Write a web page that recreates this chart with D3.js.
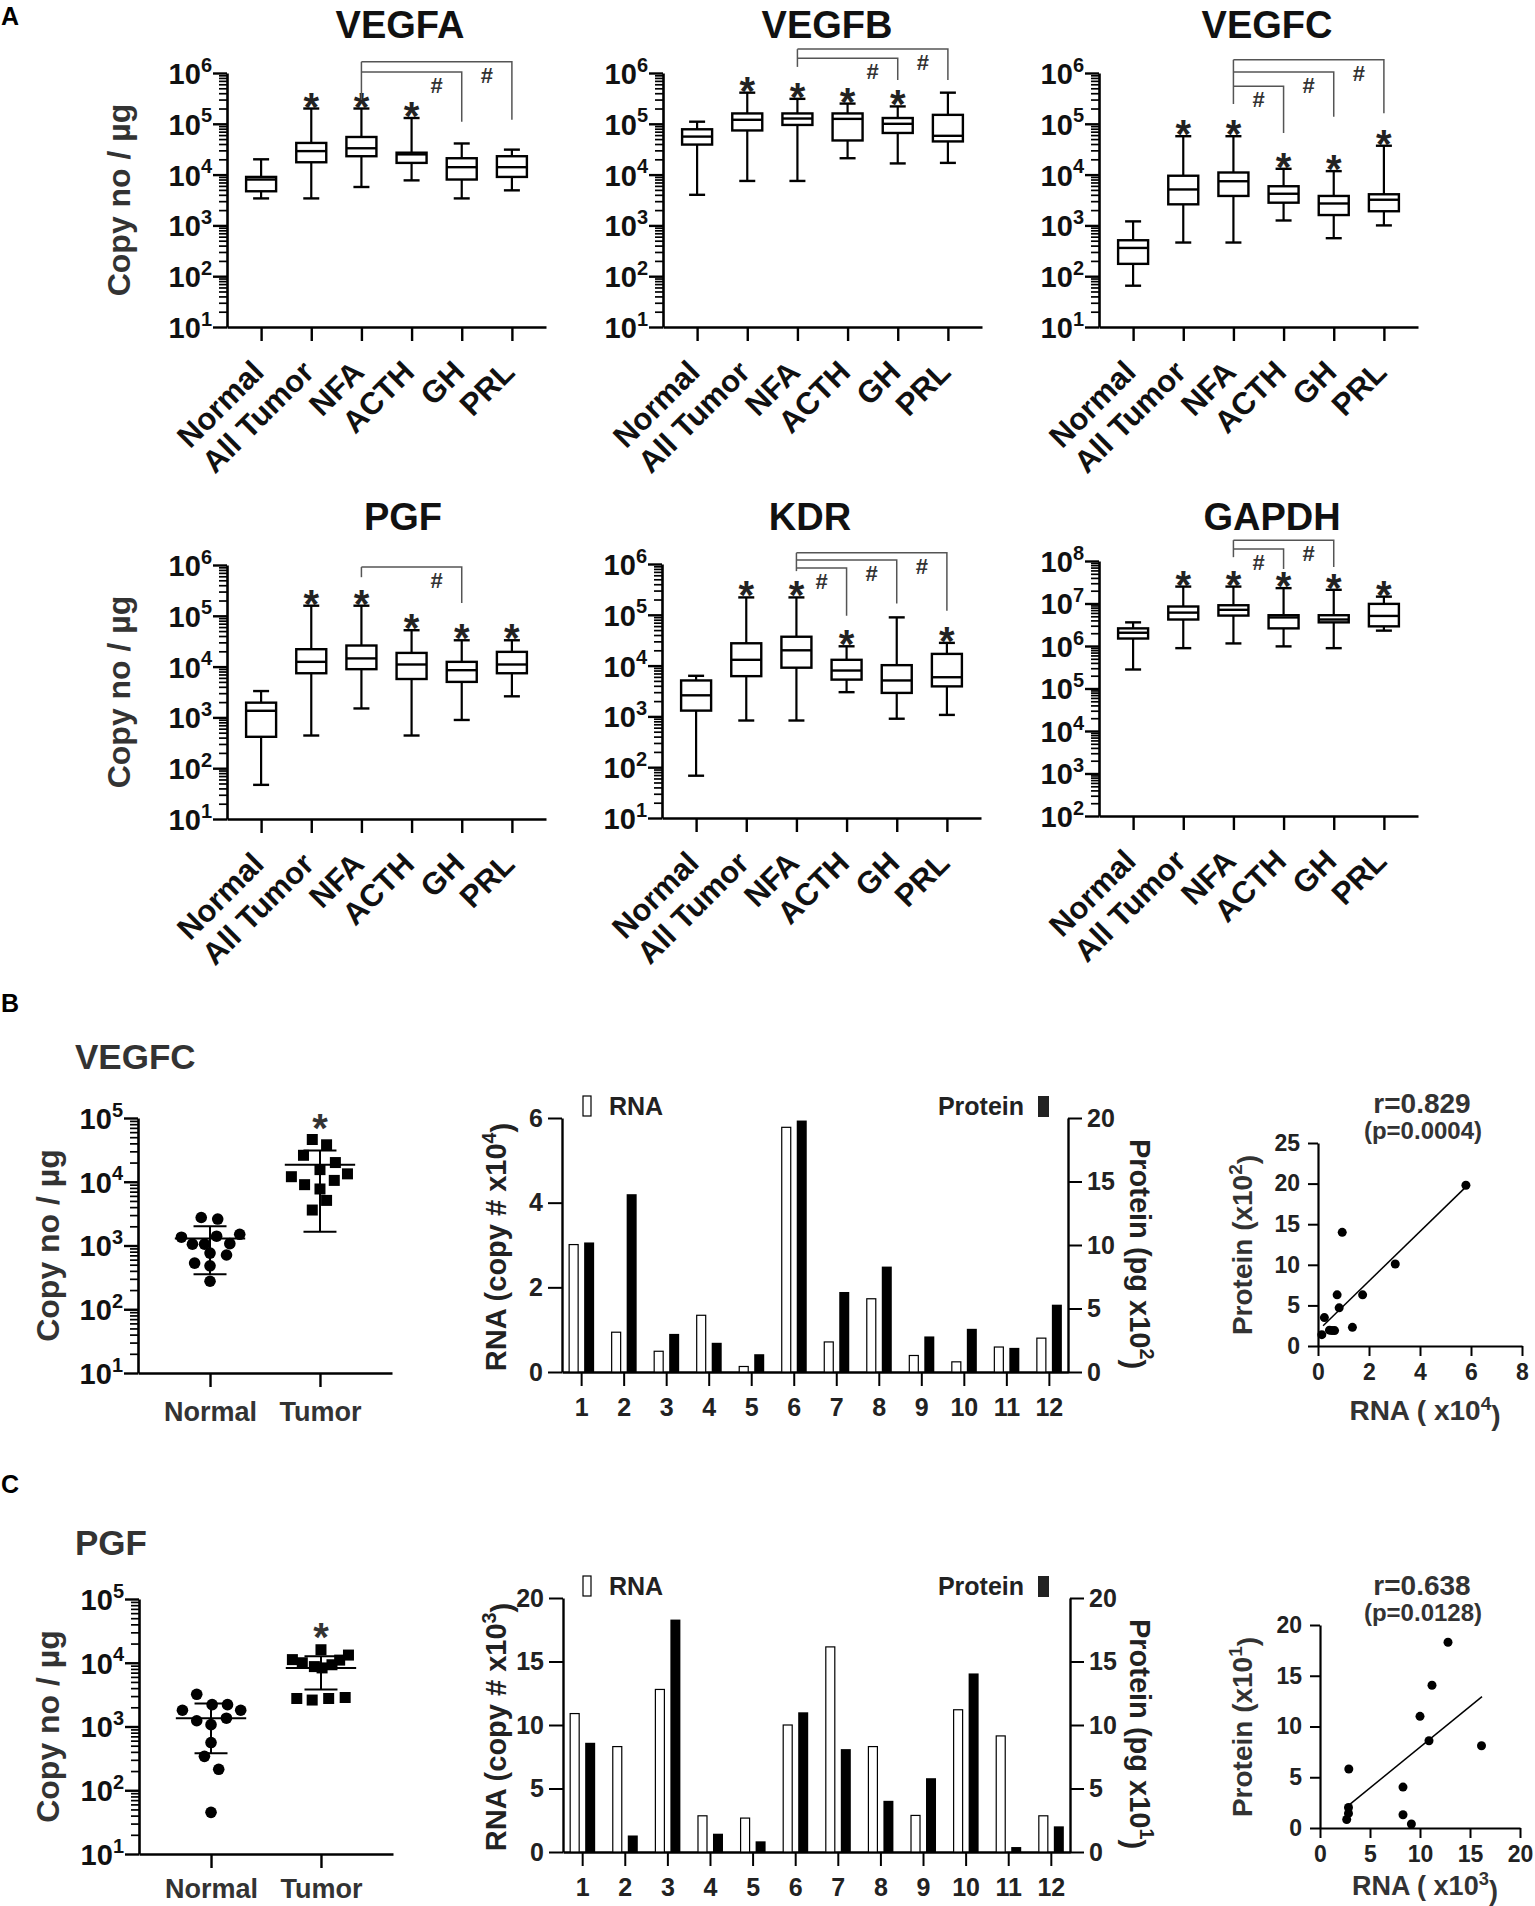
<!DOCTYPE html>
<html>
<head>
<meta charset="utf-8">
<script src="https://cdn.jsdelivr.net/npm/d3@7"></script>
<style>
body { margin: 0; background: #fff; }
svg { display: block; font-family: "Liberation Sans", Arial, sans-serif; font-weight: bold; }
</style>
</head>
<body>
<svg id="fig" width="1535" height="1906"></svg>
<script>
// ---- panel A : box plots, [min, q1, median, q3, max] per group ----
const groups = ["Normal", "All Tumor", "NFA", "ACTH", "GH", "PRL"];

const vegfaStats = [[3.4e3, 4.7e3, 8e3, 9e3, 2e4], [3.4e3, 1.75e4, 2.9e4, 4.2e4, 2e5], [5.7e3, 2.3e4, 3.3e4, 5.5e4, 2e5],
  [7.7e3, 1.7e4, 2.5e4, 2.7e4, 1.3e5], [3.4e3, 8e3, 1.4e4, 2.1e4, 4.1e4], [4.9e3, 9e3, 1.4e4, 2.3e4, 3.1e4]];
const vegfbStats = [[4e3, 3.9e4, 5.6e4, 7.8e4, 1.1e5], [7.5e3, 7.4e4, 1.2e5, 1.6e5, 4.1e5], [7.5e3, 9.5e4, 1.27e5, 1.6e5, 3.1e5],
  [2.1e4, 4.7e4, 1.25e5, 1.6e5, 2.5e5], [1.66e4, 6.6e4, 1e5, 1.3e5, 2.2e5], [1.7e4, 4.5e4, 5.8e4, 1.5e5, 4.1e5]];
const vegfcStats = [[65, 175, 360, 510, 1.2e3], [460, 2.6e3, 5.1e3, 9.5e3, 5.7e4], [460, 3.8e3, 7.4e3, 1.1e4, 5.7e4],
  [1.25e3, 2.8e3, 4.2e3, 5.9e3, 1.3e4], [560, 1.6e3, 2.7e3, 3.8e3, 1.17e4], [1e3, 1.9e3, 3.2e3, 4.1e3, 3.7e4]];
const pgfStats = [[47, 415, 1.35e3, 1.95e3, 3.3e3], [440, 7.4e3, 1.24e4, 2.2e4, 1.58e5], [1.5e3, 8.9e3, 1.45e4, 2.6e4, 1.58e5],
  [440, 5.7e3, 1.1e4, 1.86e4, 5.2e4], [890, 5e3, 8.5e3, 1.24e4, 3.3e4], [2.6e3, 7.4e3, 1.1e4, 1.95e4, 3.3e4]];
const kdrStats = [[68, 1.3e3, 2.6e3, 5.1e3, 6.3e3], [830, 6.2e3, 1.3e4, 2.75e4, 2.2e5], [830, 9.1e3, 2e4, 3.7e4, 2.2e5],
  [3e3, 5.3e3, 8e3, 1.3e4, 2.4e4], [900, 2.9e3, 5.1e3, 1.02e4, 8.9e4], [1.07e3, 3.9e3, 5.9e3, 1.7e4, 2.8e4]];
const gapdhStats = [[2.8e5, 1.5e6, 2.05e6, 2.6e6, 3.6e6], [8.9e5, 4.2e6, 6.1e6, 8.5e6, 2.5e7], [1.15e6, 5.2e6, 7.1e6, 9.1e6, 2.5e7],
  [9.8e5, 2.6e6, 4.7e6, 5.3e6, 2.3e7], [8.9e5, 3.6e6, 4.2e6, 5.3e6, 2.1e7], [2.3e6, 2.9e6, 5.1e6, 9.8e6, 1.45e7]];

// * = different from Normal
const vegfaStars = [0, 1, 1, 1, 0, 0];
const vegfbStars = [0, 1, 1, 1, 1, 0];
const vegfcStars = [0, 1, 1, 1, 1, 1];
const pgfStars = [0, 1, 1, 1, 1, 1];
const kdrStars = [0, 1, 1, 1, 0, 1];
const gapdhStars = [0, 1, 1, 1, 1, 1];

// # brackets from NFA: [target, bar level (log10), drop end (log10)]
const vegfaBrackets = [["GH", 6.02, 5.04], ["PRL", 6.22, 5.08]];
const vegfbBrackets = [["GH", 6.29, 5.86], ["PRL", 6.47, 5.86]];
const vegfcBrackets = [["ACTH", 5.74, 4.82], ["GH", 6.02, 5.14], ["PRL", 6.26, 5.21]];
const pgfBrackets = [["GH", 5.96, 5.25]];
const kdrBrackets = [["ACTH", 5.92, 4.98], ["GH", 6.08, 5.22], ["PRL", 6.22, 5.08]];
const gapdhBrackets = [["ACTH", 8.28, 7.81], ["GH", 8.49, 7.86]];
// lower end of the NFA leg (log10)
const nfaLegEnd = { VEGFA: 5.47, VEGFB: 6.12, VEGFC: 5.39, PGF: 5.76, KDR: 5.86, GAPDH: 8.09 };

// ---- panels B / C : dot plots (value, jitter as fraction of group step) ----
const dotGroups = ["Normal", "Tumor"];
const vegfcNormalVals = [2750, 2600, 1350, 1500, 1050, 1050, 1400, 1070, 760, 710, 530, 480, 275];
const vegfcNormalJit = [-0.08, 0.07, -0.26, 0.27, -0.16, -0.05, 0.06, 0.18, 0, 0.15, -0.14, 0, 0];
const vegfcTumorVals = [4.6e4, 3.8e4, 2.6e4, 2.0e4, 1.2e4, 1.55e4, 1.33e4, 9e3, 1.05e4, 7.7e3, 5.1e3, 3.6e3];
const vegfcTumorJit = [-0.07, 0.06, -0.15, 0.14, -0.26, 0, 0.25, -0.14, 0.13, 0, 0.06, -0.07];
const vegfcMeanSd = [[1290, 355, 2000], [1.85e4, 1650, 3.1e4]]; // mean, low, high

const pgfNormalVals = [3200, 1800, 2200, 2200, 1800, 1230, 1070, 1350, 560, 340, 213, 45];
const pgfNormalJit = [-0.13, -0.26, 0.01, 0.15, 0.27, -0.13, 0, 0.14, 0, -0.06, 0.07, 0];
const pgfTumorVals = [1.6e4, 1.12e4, 1.32e4, 1e4, 8.7e3, 8.3e3, 9.3e3, 1.1e4, 2.75e3, 2.6e3, 2.75e3, 2.85e3];
const pgfTumorJit = [0, -0.26, 0.25, -0.17, -0.06, 0.01, 0.1, 0.17, -0.22, -0.08, 0.07, 0.22];
const pgfMeanSd = [[1350, 380, 2300], [8300, 3800, 1.26e4]];

// ---- paired bars per sample ----
const samples = ["1", "2", "3", "4", "5", "6", "7", "8", "9", "10", "11", "12"];
const vegfcRna = [3.01, 0.94, 0.49, 1.34, 0.13, 5.78, 0.71, 1.73, 0.39, 0.24, 0.59, 0.80];      // copy # x10^4
const vegfcProtein = [10.2, 14.0, 3.0, 2.3, 1.4, 19.8, 6.3, 8.3, 2.8, 3.4, 1.9, 5.3];           // pg x10^2
const pgfRna = [10.9, 8.3, 12.8, 2.85, 2.67, 10.0, 16.15, 8.3, 2.88, 11.2, 9.14, 2.85];          // copy # x10^3
const pgfProtein = [8.6, 1.3, 18.3, 1.44, 0.84, 11.0, 8.1, 4.03, 5.81, 14.06, 0.39, 2.02];       // pg x10^1

// ---- correlation scatter ----
const vegfcScatterRna = [5.8, 0.95, 3.03, 0.75, 1.75, 0.83, 0.25, 1.35, 0.45, 0.65, 0.55, 0.15];
const vegfcScatterProt = [19.8, 14.0, 10.1, 6.3, 6.3, 4.7, 3.5, 2.3, 1.95, 1.9, 1.9, 1.4];
const vegfcFitX = [0.2, 5.8], vegfcFitY = [2.5, 19.6];
const pgfFitX = [2.95, 16.2], pgfFitY = [2.3, 12.95];

const svg = d3.select("#fig");
svg.append("rect").attr("width", 1535).attr("height", 1906).attr("fill", "#fff");

function clean(sel) {
  sel.attr("font-size", null).attr("font-family", null);
  return sel;
}

function logAxis(g, y, x0, lo, hi, fs) {
  const major = d3.range(lo, hi + 1).map(e => Math.pow(10, e));
  const minor = [];
  for (let e = lo; e < hi; e++) for (let k = 2; k < 10; k++) minor.push(k * Math.pow(10, e));
  const m = g.append("g").attr("transform", `translate(${x0},0)`)
    .call(d3.axisLeft(y).tickValues(minor).tickSize(8).tickSizeOuter(0).tickFormat(""));
  m.select(".domain").remove();
  m.selectAll(".tick line").attr("stroke-width", 1.7);
  const a = clean(g.append("g").attr("transform", `translate(${x0},0)`)
    .call(d3.axisLeft(y).tickValues(major).tickSize(14).tickSizeOuter(0).tickFormat("")));
  a.select(".domain").attr("stroke-width", 2.6);
  a.selectAll(".tick line").attr("stroke-width", 2.4);
  a.selectAll(".tick").append("text")
    .attr("x", -15).attr("dy", "0.36em").attr("text-anchor", "end")
    .attr("fill", "#111").style("font-size", fs + "px")
    .each(function(d) {
      const t = d3.select(this);
      t.append("tspan").text("10");
      t.append("tspan").attr("dy", "-0.62em").style("font-size", Math.round(fs * 0.68) + "px")
        .text(Math.round(Math.log10(d)));
    });
}

function boxPanel(p) {
  const g = svg.append("g");
  const x = d3.scalePoint().domain(groups).range([p.x0, p.x0 + 319]).padding(0.68);
  const y = d3.scaleLog().domain([Math.pow(10, p.lo), Math.pow(10, p.hi)]).range([p.bottom, p.top]);

  g.append("text").attr("x", p.titleX).attr("y", p.titleY).attr("text-anchor", "middle")
    .attr("fill", "#111").style("font-size", "38px").text(p.title);

  if (p.ylabel) {
    g.append("text").attr("transform", `translate(118,${(p.top + p.bottom) / 2}) rotate(-90)`)
      .attr("text-anchor", "middle").attr("dy", "0.36em").attr("fill", "#333")
      .style("font-size", "32px").text("Copy no / µg");
  }

  logAxis(g, y, p.x0, p.lo, p.hi, 29);

  const xa = clean(g.append("g").attr("transform", `translate(0,${p.bottom})`)
    .call(d3.axisBottom(x).tickSize(14).tickSizeOuter(0).tickFormat("")));
  xa.select(".domain").attr("stroke-width", 2.6);
  xa.selectAll(".tick line").attr("stroke-width", 2.4);
  xa.selectAll(".tick").append("text")
    .attr("text-anchor", "end").attr("fill", "#111").style("font-size", "31px")
    .attr("transform", "translate(4,47) rotate(-45)")
    .text(d => d);

  // boxes
  const b = g.selectAll(".bx").data(p.stats).join("g").attr("class", "bx")
    .attr("transform", (d, i) => `translate(${x(groups[i])},0)`);
  b.append("line").attr("y1", d => y(d[0])).attr("y2", d => y(d[4]))
    .attr("stroke", "#000").attr("stroke-width", 2.2);
  b.append("line").attr("x1", -8).attr("x2", 8).attr("y1", d => y(d[0])).attr("y2", d => y(d[0]))
    .attr("stroke", "#000").attr("stroke-width", 2.4);
  b.append("line").attr("x1", -8).attr("x2", 8).attr("y1", d => y(d[4])).attr("y2", d => y(d[4]))
    .attr("stroke", "#000").attr("stroke-width", 2.4);
  b.append("rect").attr("x", -15).attr("width", 30)
    .attr("y", d => y(d[3])).attr("height", d => y(d[1]) - y(d[3]))
    .attr("fill", "#fff").attr("stroke", "#000").attr("stroke-width", 2.4);
  b.append("line").attr("x1", -15).attr("x2", 15).attr("y1", d => y(d[2])).attr("y2", d => y(d[2]))
    .attr("stroke", "#000").attr("stroke-width", 2.4);

  // stars
  b.filter((d, i) => p.stars[i]).append("text")
    .attr("text-anchor", "middle").attr("y", d => y(d[4]) + 12)
    .attr("fill", "#222").style("font-size", "40px").text("*");

  // brackets
  const xn = x("NFA");
  const topLevel = d3.max(p.brackets, d => d[1]);
  g.append("line").attr("x1", xn).attr("x2", xn)
    .attr("y1", y(Math.pow(10, topLevel))).attr("y2", y(Math.pow(10, p.nfaLeg)))
    .attr("stroke", "#555").attr("stroke-width", 1.5);
  p.brackets.forEach(([t, lev, drop]) => {
    const xt = x(t);
    const yl = y(Math.pow(10, lev));
    g.append("path").attr("d", `M${xn},${yl}H${xt}V${y(Math.pow(10, drop))}`)
      .attr("fill", "none").attr("stroke", "#555").attr("stroke-width", 1.5);
    const prev = groups[groups.indexOf(t) - 1];
    g.append("text").attr("x", (x(prev) + xt) / 2).attr("y", yl + 21)
      .attr("text-anchor", "middle").attr("fill", "#333").style("font-size", "22px").text("#");
  });
}

boxPanel({ title: "VEGFA", stats: vegfaStats, stars: vegfaStars, brackets: vegfaBrackets, nfaLeg: nfaLegEnd.VEGFA,
  x0: 227, top: 73, bottom: 327, lo: 1, hi: 6, titleX: 400, titleY: 38, ylabel: true });
boxPanel({ title: "VEGFB", stats: vegfbStats, stars: vegfbStars, brackets: vegfbBrackets, nfaLeg: nfaLegEnd.VEGFB,
  x0: 663, top: 73, bottom: 327, lo: 1, hi: 6, titleX: 827, titleY: 38 });
boxPanel({ title: "VEGFC", stats: vegfcStats, stars: vegfcStars, brackets: vegfcBrackets, nfaLeg: nfaLegEnd.VEGFC,
  x0: 1099, top: 73, bottom: 327, lo: 1, hi: 6, titleX: 1267, titleY: 38 });
boxPanel({ title: "PGF", stats: pgfStats, stars: pgfStars, brackets: pgfBrackets, nfaLeg: nfaLegEnd.PGF,
  x0: 227, top: 565, bottom: 819, lo: 1, hi: 6, titleX: 403, titleY: 530, ylabel: true });
boxPanel({ title: "KDR", stats: kdrStats, stars: kdrStars, brackets: kdrBrackets, nfaLeg: nfaLegEnd.KDR,
  x0: 662, top: 564, bottom: 818, lo: 1, hi: 6, titleX: 810, titleY: 530 });
boxPanel({ title: "GAPDH", stats: gapdhStats, stars: gapdhStars, brackets: gapdhBrackets, nfaLeg: nfaLegEnd.GAPDH,
  x0: 1099, top: 561, bottom: 816, lo: 2, hi: 8, titleX: 1272, titleY: 530 });

// panel letters
[["A", 25], ["B", 1012], ["C", 1493]].forEach(([t, yy]) => {
  svg.append("text").attr("x", 1).attr("y", yy).attr("fill", "#000").style("font-size", "25px").text(t);
});

function dotPanel(p) {
  const g = svg.append("g");
  const x = d3.scalePoint().domain(dotGroups).range([p.x0, p.x0 + 254]).padding(0.655);
  const y = d3.scaleLog().domain([10, 1e5]).range([p.bottom, p.top]);
  const step = x.step();

  g.append("text").attr("x", 75).attr("y", p.titleY).attr("fill", "#333")
    .style("font-size", "35px").text(p.title);
  g.append("text").attr("transform", `translate(47,${(p.top + p.bottom) / 2}) rotate(-90)`)
    .attr("text-anchor", "middle").attr("dy", "0.36em").attr("fill", "#333")
    .style("font-size", "32px").text("Copy no / µg");

  logAxis(g, y, p.x0, 1, 5, 29);
  const xa = clean(g.append("g").attr("transform", `translate(0,${p.bottom})`)
    .call(d3.axisBottom(x).tickSize(14).tickSizeOuter(0).tickPadding(p.labPad)));
  xa.select(".domain").attr("stroke-width", 2.6);
  xa.selectAll(".tick line").attr("stroke-width", 2.4);
  xa.selectAll(".tick text").attr("fill", "#333").style("font-size", "27px");

  const sets = [[p.normal, p.normalJit], [p.tumor, p.tumorJit]];
  sets.forEach(([vals, jit], gi) => {
    const cx = x(dotGroups[gi]);
    if (gi === 0) {
      g.selectAll(null).data(vals).join("circle")
        .attr("cx", (d, i) => cx + jit[i] * step).attr("cy", d => y(d)).attr("r", 5.8).attr("fill", "#000");
    } else {
      g.selectAll(null).data(vals).join("rect")
        .attr("x", (d, i) => cx + jit[i] * step - 5.5).attr("y", d => y(d) - 5.5)
        .attr("width", 11).attr("height", 11).attr("fill", "#000");
    }
    const [mn, lo, hi] = p.meanSd[gi];
    g.append("line").attr("x1", cx).attr("x2", cx).attr("y1", y(lo)).attr("y2", y(hi))
      .attr("stroke", "#000").attr("stroke-width", 2);
    g.append("line").attr("x1", cx - 0.32 * step).attr("x2", cx + 0.32 * step).attr("y1", y(mn)).attr("y2", y(mn))
      .attr("stroke", "#000").attr("stroke-width", 2);
    [lo, hi].forEach(v => g.append("line").attr("x1", cx - 0.15 * step).attr("x2", cx + 0.15 * step)
      .attr("y1", y(v)).attr("y2", y(v)).attr("stroke", "#000").attr("stroke-width", 2));
  });
  g.append("text").attr("x", x("Tumor")).attr("y", p.starY).attr("text-anchor", "middle")
    .attr("fill", "#333").style("font-size", "40px").text("*");
}

dotPanel({ title: "VEGFC", titleY: 1069, x0: 138, top: 1118, bottom: 1373, labPad: 15,
  normal: vegfcNormalVals, normalJit: vegfcNormalJit, tumor: vegfcTumorVals, tumorJit: vegfcTumorJit,
  meanSd: vegfcMeanSd, starY: 1142 });
dotPanel({ title: "PGF", titleY: 1555, x0: 139, top: 1599, bottom: 1854, labPad: 11,
  normal: pgfNormalVals, normalJit: pgfNormalJit, tumor: pgfTumorVals, tumorJit: pgfTumorJit,
  meanSd: pgfMeanSd, starY: 1651 });

function supText(sel, parts) {
  // parts: [text, superscript, text]
  sel.append("tspan").text(parts[0]);
  sel.append("tspan").attr("dy", "-0.55em").style("font-size", "0.68em").text(parts[1]);
  sel.append("tspan").attr("dy", "0.55em").text(parts[2]);
}

function barPanel(p) {
  const g = svg.append("g");
  const x = d3.scalePoint().domain(samples).range([p.xl, p.xr]).padding(0.45);
  const yr = d3.scaleLinear().domain([0, p.rnaMax]).range([p.y0, p.y0 - 254]);
  const yp = d3.scaleLinear().domain([0, 20]).range([p.y0, p.y0 - 254]);

  const la = clean(g.append("g").attr("transform", `translate(${p.xl},0)`)
    .call(d3.axisLeft(yr).tickValues(p.rnaTicks).tickFormat(d3.format("d"))
      .tickSize(14).tickSizeOuter(0).tickPadding(5)));
  const ra = clean(g.append("g").attr("transform", `translate(${p.xr},0)`)
    .call(d3.axisRight(yp).tickValues([0, 5, 10, 15, 20]).tickSize(14).tickSizeOuter(0).tickPadding(5)));
  const ba = clean(g.append("g").attr("transform", `translate(0,${p.y0})`)
    .call(d3.axisBottom(x).tickSize(14).tickSizeOuter(0).tickPadding(12)));
  [la, ra, ba].forEach(a => {
    a.select(".domain").attr("stroke-width", 2.4);
    a.selectAll(".tick line").attr("stroke-width", 2);
    a.selectAll(".tick text").attr("fill", "#222").style("font-size", "25px");
  });

  g.selectAll(null).data(p.rna).join("rect")
    .attr("x", (d, i) => x(samples[i]) - 12).attr("width", 9)
    .attr("y", d => yr(d)).attr("height", d => p.y0 - yr(d))
    .attr("fill", "#fff").attr("stroke", "#000").attr("stroke-width", 1.2);
  g.selectAll(null).data(p.protein).join("rect")
    .attr("x", (d, i) => x(samples[i]) + 3).attr("width", 10)
    .attr("y", d => yp(d)).attr("height", d => p.y0 - yp(d))
    .attr("fill", "#000");

  // legend
  g.append("rect").attr("x", 583).attr("y", p.legY).attr("width", 8).attr("height", 20)
    .attr("fill", "#fff").attr("stroke", "#000").attr("stroke-width", 1.2);
  g.append("text").attr("x", 609).attr("y", p.legY + 19).attr("fill", "#222").style("font-size", "25px").text("RNA");
  g.append("text").attr("x", 1024).attr("y", p.legY + 19).attr("text-anchor", "end")
    .attr("fill", "#222").style("font-size", "25px").text("Protein");
  g.append("rect").attr("x", 1038).attr("y", p.legY).attr("width", 11).attr("height", 21).attr("fill", "#222");

  supText(g.append("text").attr("transform", `translate(496,${p.y0 - 125}) rotate(-90)`)
    .attr("text-anchor", "middle").attr("dy", "0.36em").attr("fill", "#222").style("font-size", "29px"),
    ["RNA (copy # x10", p.rnaExp, ")"]);
  supText(g.append("text").attr("transform", `translate(1140,${p.y0 - 118}) rotate(90)`)
    .attr("text-anchor", "middle").attr("dy", "0.36em").attr("fill", "#222").style("font-size", "29px"),
    ["Protein (pg x10", p.protExp, ")"]);
}

barPanel({ xl: 562, xr: 1068, y0: 1372, rnaMax: 6, rnaTicks: [0, 2, 4, 6], rna: vegfcRna, protein: vegfcProtein,
  rnaExp: "4", protExp: "2", legY: 1096 });
barPanel({ xl: 563, xr: 1070, y0: 1852, rnaMax: 20, rnaTicks: [0, 5, 10, 15, 20], rna: pgfRna, protein: pgfProtein,
  rnaExp: "3", protExp: "1", legY: 1576 });

function scatterPanel(p) {
  const g = svg.append("g");
  const x = d3.scaleLinear().domain([0, p.xMax]).range([p.x0, p.x0 + p.w]);
  const y = d3.scaleLinear().domain([0, p.yMax]).range([p.y0, p.y0 - 203]);
  const xa = clean(g.append("g").attr("transform", `translate(0,${p.y0})`)
    .call(d3.axisBottom(x).tickValues(p.xTicks).tickSize(10).tickSizeOuter(0).tickPadding(8)));
  const ya = clean(g.append("g").attr("transform", `translate(${p.x0},0)`)
    .call(d3.axisLeft(y).tickValues(p.yTicks).tickSize(10).tickSizeOuter(0).tickPadding(8)));
  [xa, ya].forEach(a => {
    a.select(".domain").attr("stroke-width", 2.2);
    a.selectAll(".tick line").attr("stroke-width", 2);
    a.selectAll(".tick text").attr("fill", "#222").style("font-size", "23px");
  });

  g.append("line").attr("x1", x(p.fitX[0])).attr("y1", y(p.fitY[0]))
    .attr("x2", x(p.fitX[1])).attr("y2", y(p.fitY[1])).attr("stroke", "#000").attr("stroke-width", 1.5);
  g.selectAll(null).data(p.rna).join("circle")
    .attr("cx", d => x(d)).attr("cy", (d, i) => y(p.prot[i])).attr("r", 4.5).attr("fill", "#000");

  g.append("text").attr("x", 1422).attr("y", p.y0 - 233).attr("text-anchor", "middle")
    .attr("fill", "#333").style("font-size", "28px").text(p.r);
  g.append("text").attr("x", 1423).attr("y", p.y0 - 207).attr("text-anchor", "middle")
    .attr("fill", "#333").style("font-size", "24px").text(p.pval);

  supText(g.append("text").attr("transform", `translate(1242,${p.y0 - 101}) rotate(-90)`)
    .attr("text-anchor", "middle").attr("dy", "0.36em").attr("fill", "#333").style("font-size", "28px"),
    ["Protein (x10", p.protExp, ")"]);
  supText(g.append("text").attr("x", 1425).attr("y", p.y0 + p.xlabDy).attr("text-anchor", "middle")
    .attr("fill", "#333").style("font-size", p.xlabFs + "px"),
    ["RNA ( x10", p.rnaExp, ")"]);
}

scatterPanel({ x0: 1318, y0: 1346, w: 204, xMax: 8, yMax: 25, xTicks: [0, 2, 4, 6, 8], yTicks: [0, 5, 10, 15, 20, 25],
  rna: vegfcScatterRna, prot: vegfcScatterProt, fitX: vegfcFitX, fitY: vegfcFitY,
  r: "r=0.829", pval: "(p=0.0004)", protExp: "2", rnaExp: "4", xlabDy: 74, xlabFs: 28 });
scatterPanel({ x0: 1320, y0: 1828, w: 200, xMax: 20, yMax: 20, xTicks: [0, 5, 10, 15, 20], yTicks: [0, 5, 10, 15, 20],
  rna: pgfRna, prot: pgfProtein, fitX: pgfFitX, fitY: pgfFitY,
  r: "r=0.638", pval: "(p=0.0128)", protExp: "1", rnaExp: "3", xlabDy: 67, xlabFs: 27 });
</script>
</body>
</html>
